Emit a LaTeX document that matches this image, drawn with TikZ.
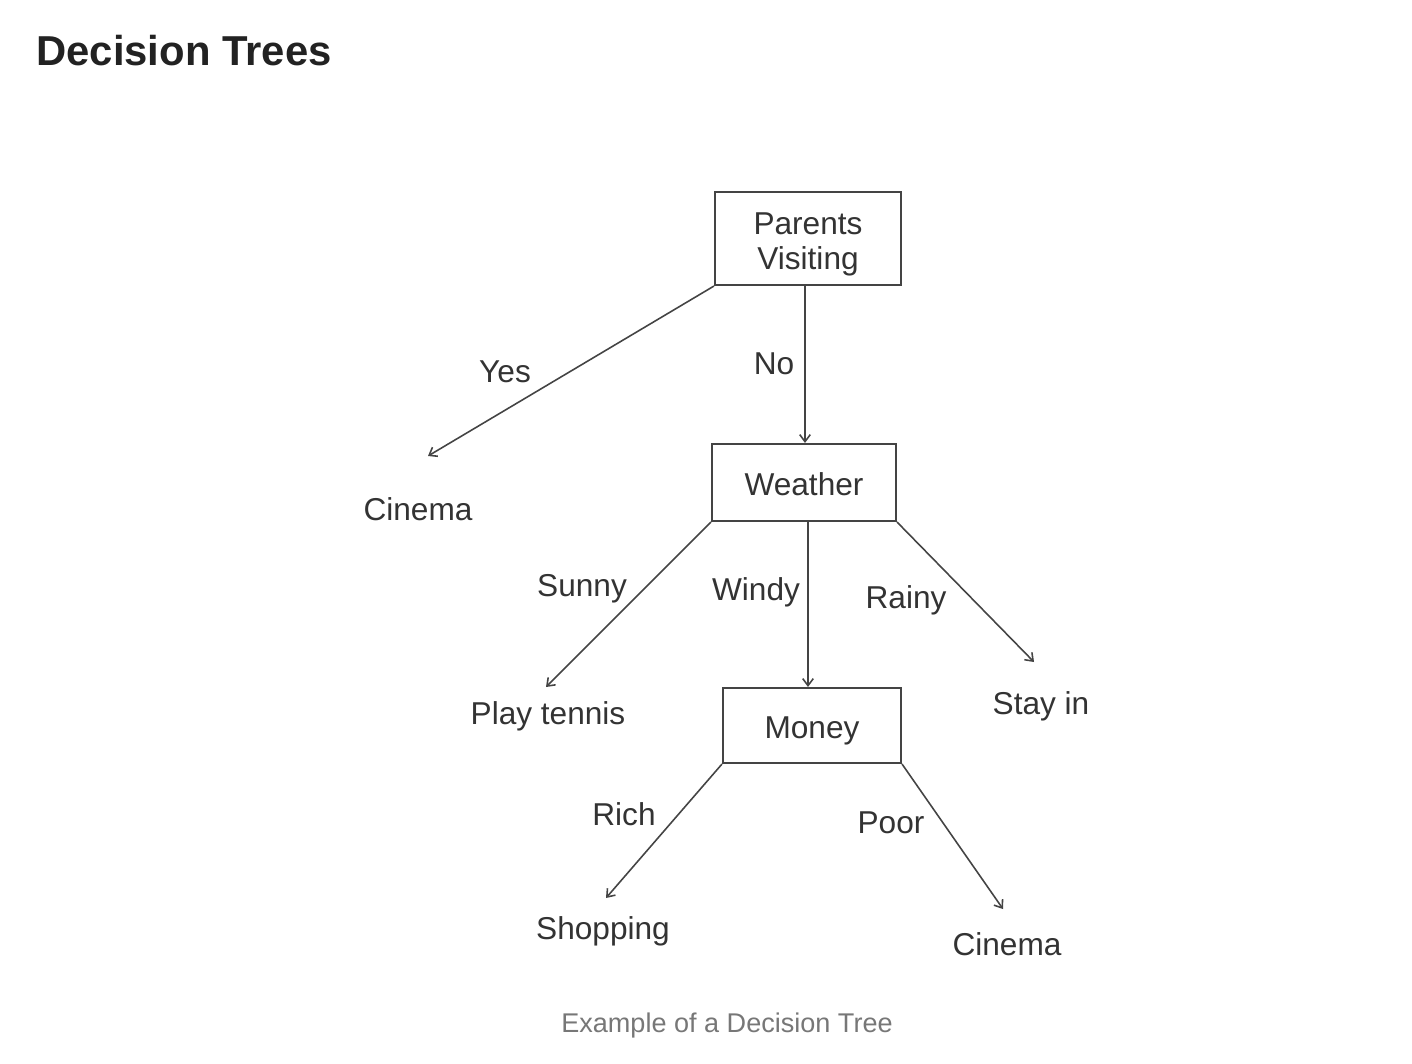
\documentclass[tikz,border=0pt]{standalone}
\usepackage{fontspec}
\setmainfont{Liberation Sans}
\usepackage{tikz}
\usetikzlibrary{arrows.meta}
\definecolor{ink}{HTML}{333333}
\definecolor{edge}{HTML}{444444}
\definecolor{head}{HTML}{222222}
\definecolor{capt}{HTML}{777777}
\newcommand{\topstrut}{\rule{0pt}{1.05em}}
\newcommand{\botstrut}{\rule[-0.2em]{0pt}{0.2em}}
\tikzset{
  box/.style={draw=edge, line width=1.2pt, inner sep=0pt, text=ink, align=center, font=\fontsize{18}{20}\selectfont},
  leaf/.style={inner sep=0pt, anchor=base, text=ink, font=\fontsize{18}{20}\selectfont},
  arr/.style={draw=edge, line width=0.9pt, -{Straight Barb[length=4pt,width=6pt]}}
}

\begin{document}
\begin{tikzpicture}[x=0.02cm, y=-0.02cm]
        \useasboundingbox (0,0) rectangle (1412,1064);
        \node[inner sep=0pt, anchor=base west, text=head, font=\fontsize{23.8}{28}\selectfont\bfseries] (title) at (36,66) {Decision Trees};
        \node[box, minimum width=3.72cm, minimum height=1.86cm] (pv) at (808,238.5) {\topstrut Parents\\Visiting\botstrut};
        \node[box, minimum width=3.68cm, minimum height=1.54cm] (we) at (804,482.5) {\topstrut Weather\botstrut};
        \node[box, minimum width=3.56cm, minimum height=1.50cm] (mo) at (812,725.5) {\topstrut Money\botstrut};
        \node[leaf] (cin1) at (418,520) {Cinema};
        \node[leaf] (ten) at (548,724) {Play tennis};
        \node[leaf] (stay) at (1041,714) {Stay in};
        \node[leaf] (shop) at (603,939) {Shopping};
        \node[leaf] (cin2) at (1007,955) {Cinema};
        \coordinate (t1) at (428,456);
        \coordinate (t2) at (546,687);
        \coordinate (t3) at (1034,662);
        \coordinate (t4) at (606,898);
        \coordinate (t5) at (1003,909);
        \draw[arr] (pv.south west) to (t1);
        \draw[arr] ([xshift=-0.06cm]pv.south) to ([xshift=-0.06cm]pv.south |- we.north);
        \draw[arr] (we.south west) to (t2);
        \draw[arr] ([xshift=0.08cm]we.south) to ([xshift=0.08cm]we.south |- mo.north);
        \draw[arr] (we.south east) to (t3);
        \draw[arr] (mo.south west) to (t4);
        \draw[arr] (mo.south east) to (t5);
        \node[leaf] (yes) at (505,382) {Yes};
        \node[leaf] (no) at (774,374) {No};
        \node[leaf] (sun) at (582,596) {Sunny};
        \node[leaf] (win) at (756,600) {Windy};
        \node[leaf] (rai) at (906,608) {Rainy};
        \node[leaf] (ric) at (624,825) {Rich};
        \node[leaf] (poo) at (891,833) {Poor};
        \node[inner sep=0pt, anchor=base, text=capt, font=\fontsize{15.4}{18}\selectfont] (cap) at (727,1032) {Example of a Decision Tree};
    \end{tikzpicture}
\end{document}
